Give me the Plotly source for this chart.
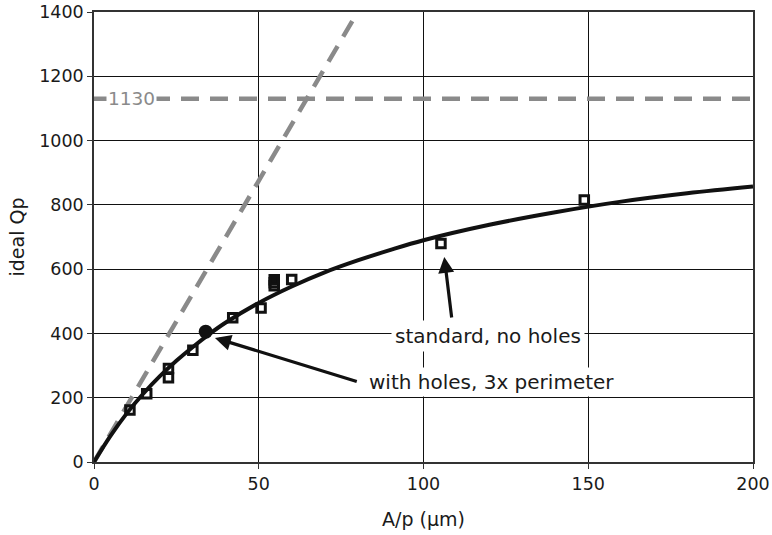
import plotly.graph_objects as go

# --- data ---
sq_x = [10.9, 16.0, 22.6, 22.6, 30.0, 42.1, 50.7, 54.7, 54.7, 54.7, 60.0, 105.3, 148.8]
sq_y = [162, 212, 291, 262, 348, 449, 479, 548, 558, 567, 568, 680, 815]

holes_x = [33.9]
holes_y = [405]

fit_x = [0, 5, 10, 15, 20, 25, 30, 35, 40, 50, 60, 70, 80, 90, 100, 120, 140, 160, 180, 200]
fit_y = [0, 81, 152, 213, 267, 315, 358, 398, 434, 495, 546, 590, 627, 660, 690, 738, 777, 810, 836, 857]

lin_x = [0, 80]
lin_y = [0, 1400]

limit_x = [0, 200]
limit_y = [1130, 1130]
limit_label = "1130"

x_ticks = [0, 50, 100, 150, 200]
y_ticks = [0, 200, 400, 600, 800, 1000, 1200, 1400]

FONT = "DejaVu Sans, Liberation Sans, Arial, sans-serif"
GRAY = "#8a8a8a"
INK = "#1a1a1a"

fig = go.Figure()

fig.add_trace(go.Scatter(x=limit_x, y=limit_y, mode="lines",
                         line=dict(color=GRAY, width=4.5, dash="18px,11px"),
                         hoverinfo="skip"))
fig.add_trace(go.Scatter(x=lin_x, y=lin_y, mode="lines",
                         line=dict(color=GRAY, width=4.5, dash="18px,11px"),
                         hoverinfo="skip"))
fig.add_trace(go.Scatter(x=fit_x, y=fit_y, mode="lines", line_shape="spline",
                         line=dict(color="#111111", width=4)))
fig.add_trace(go.Scatter(x=sq_x, y=sq_y, mode="markers",
                         marker=dict(symbol="square-open", size=8.5, color="#111111",
                                     line=dict(width=3, color="#111111"))))
fig.add_trace(go.Scatter(x=holes_x, y=holes_y, mode="markers",
                         marker=dict(symbol="circle", size=14, color="#111111")))

# arrows (tail -> tip, data coordinates)
fig.add_annotation(x=106.3, y=638, ax=108.6, ay=445, xref="x", yref="y",
                   axref="x", ayref="y", text="", showarrow=True,
                   arrowhead=2, arrowsize=1.0, arrowwidth=3.2, arrowcolor="#111111")
fig.add_annotation(x=36.7, y=386, ax=80.2, ay=249, xref="x", yref="y",
                   axref="x", ayref="y", text="", showarrow=True,
                   arrowhead=2, arrowsize=1.0, arrowwidth=3.2, arrowcolor="#111111")

fig.add_annotation(x=119.6, y=392, xref="x", yref="y", text="standard, no holes",
                   showarrow=False, bgcolor="white", borderpad=3,
                   font=dict(family=FONT, size=20, color=INK))
fig.add_annotation(x=120.5, y=249, xref="x", yref="y", text="with holes, 3x perimeter",
                   showarrow=False, bgcolor="white", borderpad=2,
                   font=dict(family=FONT, size=20, color=INK))
fig.add_annotation(x=11.3, y=1130, xref="x", yref="y", text=limit_label,
                   showarrow=False, bgcolor="white", borderpad=1,
                   font=dict(family=FONT, size=18.5, color=GRAY))

fig.update_layout(
    width=772, height=535,
    margin=dict(l=94, r=19, t=12, b=73),
    paper_bgcolor="white", plot_bgcolor="white",
    showlegend=False,
    font=dict(family=FONT, size=17.5, color=INK),
    xaxis=dict(range=[0, 200], tickvals=x_ticks, showgrid=True, gridcolor="#111111",
               gridwidth=1, zeroline=False, showline=True, linecolor="#333333",
               linewidth=1.5, mirror=True, ticks="outside", ticklen=5,
               tickcolor="#333333", automargin=False,
               title=dict(text="A/p (µm)", standoff=20, font=dict(size=19)),
               tickfont=dict(size=17.5)),
    yaxis=dict(range=[0, 1400], tickvals=y_ticks, showgrid=True, gridcolor="#111111",
               gridwidth=1, zeroline=False, showline=True, linecolor="#333333",
               linewidth=1.5, mirror=True, ticks="outside", ticklen=5,
               tickcolor="#333333", automargin=False,
               title=dict(text="ideal Qp", standoff=10, font=dict(size=19)),
               tickfont=dict(size=17.5)),
)

fig.write_html("out.html")
